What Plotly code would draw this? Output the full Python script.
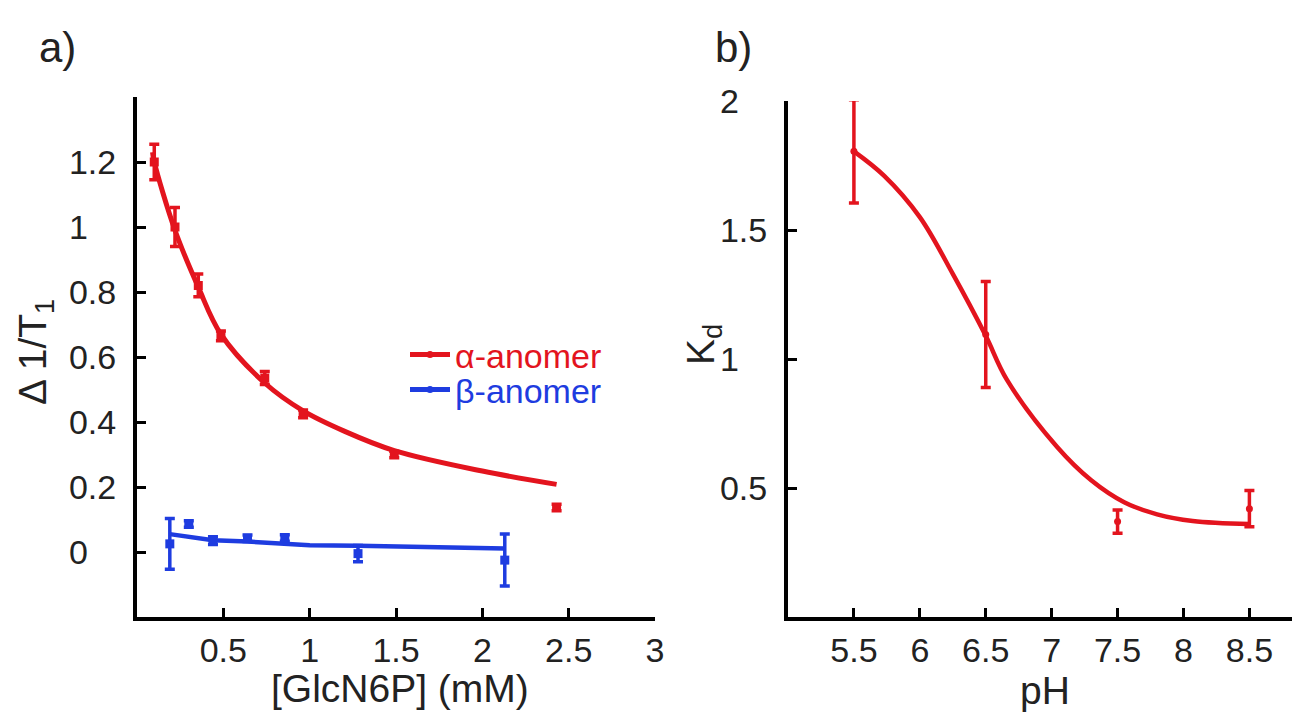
import plotly.graph_objects as go

RED = "#e3141e"
BLUE = "#1e3ce0"
FONT = "Liberation Sans, Arial, sans-serif"
NB = "\u00a0\u00a0\u00a0"

# ---------- panel a data ----------
alpha_x = [0.10, 0.22, 0.355, 0.486, 0.74, 0.962, 1.49, 2.43]
alpha_y = [1.20, 1.00, 0.82, 0.665, 0.535, 0.425, 0.30, 0.137]
alpha_err = [0.055, 0.06, 0.035, 0.015, 0.02, 0.012, 0.01, 0.01]

alpha_fit_x = [0.09, 0.10, 0.22, 0.355, 0.486, 0.74, 0.96, 1.2, 1.49, 2.0, 2.43]
alpha_fit_y = [1.23, 1.20, 0.99, 0.815, 0.67, 0.52, 0.435, 0.372, 0.312, 0.249, 0.208]

beta_x = [0.19, 0.30, 0.44, 0.64, 0.856, 1.28, 2.13]
beta_y = [0.025, 0.086, 0.035, 0.042, 0.043, -0.005, -0.025]
beta_err = [0.078, 0.01, 0.012, 0.01, 0.01, 0.025, 0.08]

beta_fit_x = [0.19, 0.30, 0.44, 0.64, 0.86, 1.0, 1.28, 1.75, 2.13]
beta_fit_y = [0.055, 0.048, 0.036, 0.032, 0.027, 0.021, 0.019, 0.015, 0.011]

# ---------- panel b data ----------
ph_x = [5.5, 6.5, 7.5, 8.5]
kd_y = [1.805, 1.095, 0.37, 0.42]
kd_err = [0.2, 0.205, 0.045, 0.07]

kd_fit_x = [5.5, 5.73, 6.0, 6.25, 6.5, 6.66, 7.04, 7.3, 7.55, 7.8, 8.07, 8.5]
kd_fit_y = [1.805, 1.71, 1.55, 1.33, 1.09, 0.92, 0.66, 0.53, 0.445, 0.398, 0.372, 0.36]

a_xticks = [0.5, 1, 1.5, 2, 2.5, 3]
a_xticktext = ["0.5", "1", "1.5", "2", "2.5", "3"]
a_yticks = [0, 0.2, 0.4, 0.6, 0.8, 1.0, 1.2, 1.4]
a_yticktext = ["0" + NB, "0.2", "0.4", "0.6", "0.8", "1" + NB, "1.2", ""]
b_xticks = [5.5, 6, 6.5, 7, 7.5, 8, 8.5]
b_xticktext = ["5.5", "6", "6.5", "7", "7.5", "8", "8.5"]
b_yticks = [0.5, 1, 1.5, 2]
b_yticktext = ["0.5", "1" + NB, "1.5", "2" + NB]

W, H = 1300, 714
OFF = 8  # page body margin


def px(x):
    return (x - OFF) / W


def py(y):
    return 1 - (y - OFF) / H


fig = go.Figure()

# panel a
fig.add_trace(go.Scatter(x=alpha_fit_x, y=alpha_fit_y, mode="lines",
                         line=dict(color=RED, width=5, shape="spline"),
                         showlegend=False, xaxis="x", yaxis="y"))
fig.add_trace(go.Scatter(x=alpha_x, y=alpha_y, mode="markers",
                         marker=dict(color=RED, size=9, symbol="square"),
                         error_y=dict(type="data", array=alpha_err, color=RED,
                                      thickness=3.5, width=5),
                         showlegend=False, xaxis="x", yaxis="y"))
fig.add_trace(go.Scatter(x=beta_fit_x, y=beta_fit_y, mode="lines",
                         line=dict(color=BLUE, width=4.5),
                         showlegend=False, xaxis="x", yaxis="y"))
fig.add_trace(go.Scatter(x=beta_x, y=beta_y, mode="markers",
                         marker=dict(color=BLUE, size=9, symbol="square"),
                         error_y=dict(type="data", array=beta_err, color=BLUE,
                                      thickness=3.5, width=5),
                         showlegend=False, xaxis="x", yaxis="y"))
# legend entries
fig.add_trace(go.Scatter(x=[None], y=[None], mode="lines+markers",
                         line=dict(color=RED, width=5),
                         marker=dict(color=RED, size=7),
                         name="<span style='color:%s'>\u03b1-anomer</span>" % RED,
                         legend="legend", xaxis="x", yaxis="y"))
fig.add_trace(go.Scatter(x=[None], y=[None], mode="lines+markers",
                         line=dict(color=BLUE, width=5),
                         marker=dict(color=BLUE, size=7),
                         name="<span style='color:%s'>\u03b2-anomer</span>" % BLUE,
                         legend="legend2", xaxis="x", yaxis="y"))

# panel b
fig.add_trace(go.Scatter(x=kd_fit_x, y=kd_fit_y, mode="lines",
                         line=dict(color=RED, width=4.5, shape="spline"),
                         showlegend=False, xaxis="x2", yaxis="y2"))
fig.add_trace(go.Scatter(x=ph_x, y=kd_y, mode="markers",
                         marker=dict(color=RED, size=7),
                         error_y=dict(type="data", array=kd_err, color=RED,
                                      thickness=3.5, width=5),
                         showlegend=False, xaxis="x2", yaxis="y2"))

axis_common = dict(showline=True, linecolor="black", linewidth=4, mirror=False,
                   ticks="inside", ticklen=9, tickwidth=3, tickcolor="black",
                   showgrid=False, zeroline=False,
                   tickfont=dict(family=FONT, size=34, color="#222"),
                   automargin=False)

leg_common = dict(xanchor="left", yanchor="middle", bgcolor="rgba(0,0,0,0)",
                  font=dict(family=FONT, size=34), itemwidth=40)

fig.update_layout(
    width=W, height=H,
    margin=dict(l=0, r=0, t=0, b=0),
    paper_bgcolor="white", plot_bgcolor="white",
    font=dict(family=FONT, color="#222"),
    xaxis=dict(domain=[px(137), px(655)], range=[0, 3],
               tickmode="array", tickvals=a_xticks, ticktext=a_xticktext,
               ticklabelstandoff=0, anchor="y", **axis_common),
    yaxis=dict(domain=[py(617), py(97)], range=[-0.2, 1.4],
               tickmode="array", tickvals=a_yticks, ticktext=a_yticktext,
               ticklabelstandoff=10, anchor="x", **axis_common),
    xaxis2=dict(domain=[px(788), 1.0], range=[5, 5 + (1300 - 788) / 129.8],
                tickmode="array", tickvals=b_xticks, ticktext=b_xticktext,
                ticklabelstandoff=0, anchor="y2", **axis_common),
    yaxis2=dict(domain=[py(617), py(101)], range=[0, 2],
                tickmode="array", tickvals=b_yticks, ticktext=b_yticktext,
                ticklabelstandoff=10, anchor="x2", **axis_common),
    legend=dict(x=px(405), y=py(355), **leg_common),
    legend2=dict(x=px(405), y=py(390), **leg_common),
    showlegend=True,
)


def label(text, x, y, size=39, angle=0):
    fig.add_annotation(text=text, x=px(x), y=py(y), xref="paper", yref="paper",
                       xanchor="center", yanchor="middle", showarrow=False,
                       textangle=angle,
                       font=dict(family=FONT, size=size, color="#222"))


label("a)", 57, 47, size=42)
label("b)", 733, 47, size=42)
label("[GlcN6P] (mM)", 400, 688)
label("pH", 1045, 690)
label("\u0394 1/T<sub>1</sub>", 35, 352, angle=-90)
label("K<sub>d</sub>", 703, 345, angle=-90)

fig.write_html("out.html")
